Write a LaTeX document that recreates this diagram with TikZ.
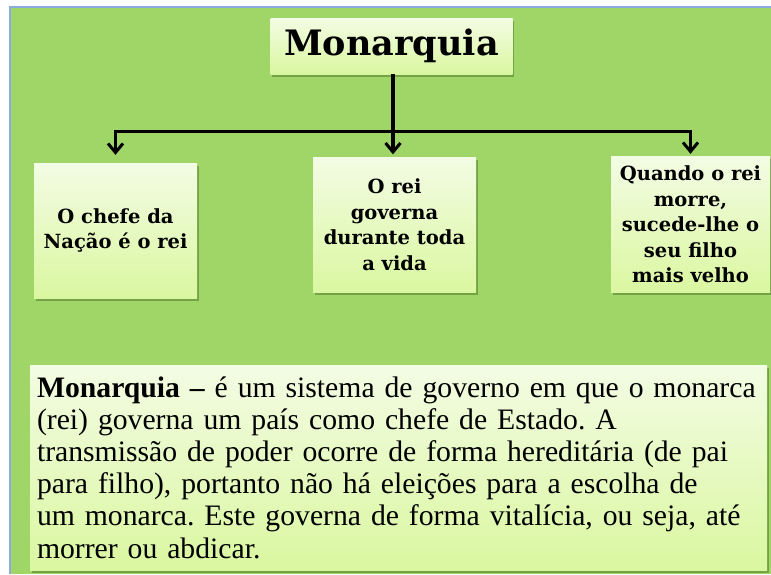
\documentclass[tikz,border=0pt]{standalone}
\usepackage{fontspec}
\setmainfont{Liberation Serif}
\newfontfamily\slab{DejaVu Serif}
\usetikzlibrary{shadows,arrows.meta}
\definecolor{bg}{RGB}{160,213,104}
\definecolor{framecol}{RGB}{141,172,222}
\definecolor{boxtop}{RGB}{243,252,228}
\definecolor{boxbot}{RGB}{218,247,160}
\definecolor{shade}{RGB}{105,150,60}
\begin{document}
\begin{tikzpicture}[x=1pt,y=-1pt,
  card/.style={top color=boxtop,bottom color=boxbot,draw=none,
    drop shadow={shadow xshift=1.5pt,shadow yshift=-2.5pt,fill=shade,opacity=0.8},
    inner sep=0pt,align=center,
    font=\slab\bfseries\fontsize{19.5}{25.5}\selectfont},
  conn/.style={line width=3.4pt,-{Straight Barb[length=9pt,width=15pt,line width=3pt]}},
  bar/.style={line width=3.4pt}
]
\useasboundingbox (0,0) rectangle (771,574);
\fill[white] (0,0) rectangle (771,574);
\fill[bg] (10,7) rectangle (771,574);
\draw[framecol,line width=2pt] (10,574) -- (10,7) -- (771,7);

\node[card,minimum width=242pt,minimum height=56pt] (t) at (391.5,46)
  {\fontsize{35}{35}\selectfont Monarquia};
\node[card,minimum width=163pt,minimum height=135pt] (a) at (115.5,230.5)
  {O chefe da\\Nação é o rei};
\node[card,minimum width=163pt,minimum height=135pt] (b) at (394.5,224.5)
  {O rei\\governa\\durante toda\\a vida};
\node[card,minimum width=159pt,minimum height=136pt] (c) at (690.5,224.5)
  {Quando o rei\\morre,\\sucede-lhe o\\seu filho\\mais velho};
\node[card,minimum width=737pt,minimum height=205pt,text width=723pt,inner xsep=7pt,
  align=left,font=\fontsize{29.7}{32.2}\selectfont\frenchspacing] (p) at (398.5,467.5)
  {\textbf{Monarquia –} é um sistema de governo em que o monarca\\
   (rei) governa um país como chefe de Estado. A\\
   transmissão de poder ocorre de forma hereditária (de pai\\
   para filho), portanto não há eleições para a escolha de\\
   um monarca. Este governa de forma vitalícia, ou seja, até\\
   morrer ou abdicar.};

\coordinate (j) at (393,131.5);
\draw[bar] (t.south -| j) -- (j);
\draw[conn,shorten >=8pt] (j) -| (a.north);
\draw[conn,shorten >=2.5pt] (j) -- (j |- b.north);
\draw[conn,shorten >=2.5pt] (j) -| (c.north);
\end{tikzpicture}
\end{document}
